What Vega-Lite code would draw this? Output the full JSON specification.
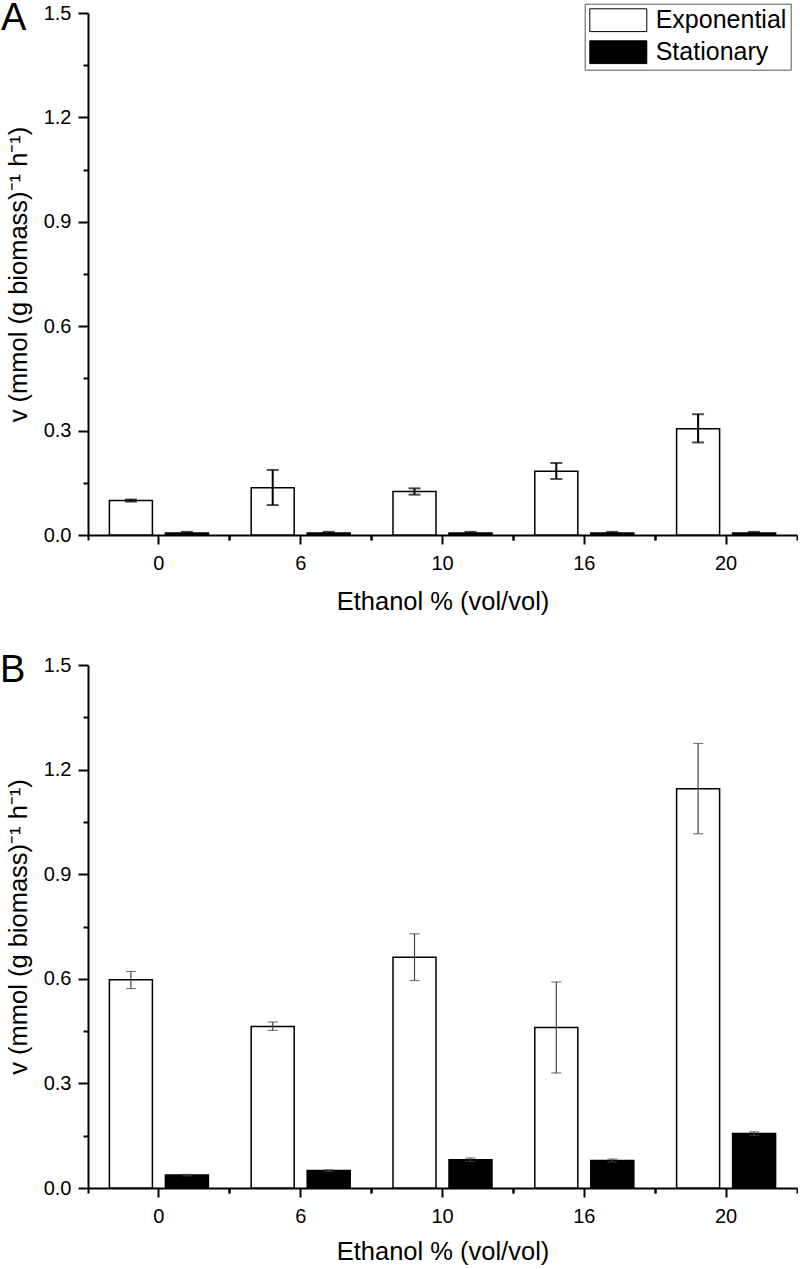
{
  "$schema": "https://vega.github.io/schema/vega-lite/v6.json",
  "padding": {"left": 0, "top": 0, "right": 0, "bottom": 0},
  "spacing": 130,
  "bounds": "flush",
  "config": {
    "font": "Liberation Sans",
    "view": {"stroke": null},
    "axis": {
      "domainColor": "black", "domainWidth": 2, "tickColor": "black", "tickWidth": 2,
      "labelColor": "black", "titleColor": "black", "labelFontSize": 20, "titleFontSize": 25.5,
      "titleFontWeight": "normal", "grid": false
    }
  },
  "vconcat": [
    {
      "width": 709,
      "height": 522,
      "data": {"values": [
        {"ethanol": 0, "phase": "Exponential", "v": 0.099, "lo": 0.096, "hi": 0.102},
        {"ethanol": 0, "phase": "Stationary", "v": 0.006, "lo": 0.004, "hi": 0.009},
        {"ethanol": 6, "phase": "Exponential", "v": 0.136, "lo": 0.086, "hi": 0.187},
        {"ethanol": 6, "phase": "Stationary", "v": 0.006, "lo": 0.004, "hi": 0.009},
        {"ethanol": 10, "phase": "Exponential", "v": 0.125, "lo": 0.116, "hi": 0.134},
        {"ethanol": 10, "phase": "Stationary", "v": 0.006, "lo": 0.004, "hi": 0.009},
        {"ethanol": 16, "phase": "Exponential", "v": 0.183, "lo": 0.161, "hi": 0.207},
        {"ethanol": 16, "phase": "Stationary", "v": 0.006, "lo": 0.004, "hi": 0.009},
        {"ethanol": 20, "phase": "Exponential", "v": 0.305, "lo": 0.266, "hi": 0.347},
        {"ethanol": 20, "phase": "Stationary", "v": 0.006, "lo": 0.004, "hi": 0.009}
      ]},
      "resolve": {"axis": {"x": "independent", "y": "independent"}},
      "layer": [
        {
          "mark": {"type": "bar", "stroke": "black", "strokeWidth": 1.5},
          "encoding": {
            "x": {"field": "ethanol", "type": "ordinal", "scale": {"paddingInner": 0, "paddingOuter": 0},
                  "axis": {"orient": "bottom", "title": "Ethanol % (vol/vol)", "labelAngle": 0, "tickSize": 9, "labelPadding": 9, "titlePadding": 16}},
            "xOffset": {"field": "phase", "type": "nominal", "scale": {"domain": ["Exponential", "Stationary"], "paddingInner": 0.232, "paddingOuter": 0.382}},
            "y": {"field": "v", "type": "quantitative", "scale": {"domain": [0, 1.5], "nice": false},
                  "axis": {"orient": "left", "title": "v (mmol (g biomass)⁻¹ h⁻¹)", "values": [0, 0.3, 0.6, 0.9, 1.2, 1.5], "format": ".1f", "tickSize": 10, "labelPadding": 7, "titlePadding": 12}},
            "fill": {"field": "phase", "type": "nominal", "scale": {"domain": ["Exponential", "Stationary"], "range": ["white", "black"]},
                     "legend": {"orient": "none", "legendX": 496.7, "legendY": -9.3, "title": null, "direction": "vertical",
                                "strokeColor": "#555", "fillColor": "white", "padding": 4,
                                "symbolType": "M-1,-1L4,-1L4,1L-1,1Z", "symbolSize": 520, "symbolStrokeColor": "black", "symbolStrokeWidth": 1,
                                "labelFontSize": 25, "labelOffset": 42, "rowPadding": 5, "labelColor": "black", "labelLimit": 300}}
          }
        },
        {
          "mark": {"type": "rule", "color": "black", "strokeWidth": 2},
          "encoding": {
            "x": {"field": "ethanol", "type": "ordinal", "axis": null},
            "xOffset": {"field": "phase", "type": "nominal"},
            "y": {"field": "lo", "type": "quantitative",
                  "axis": {"orient": "left", "values": [0.15, 0.45, 0.75, 1.05, 1.35], "tickSize": 5, "labels": false, "title": null, "domain": false}},
            "y2": {"field": "hi"}
          }
        },
        {
          "mark": {"type": "tick", "color": "black", "thickness": 2, "size": 12},
          "encoding": {
            "x": {"field": "ethanol", "type": "ordinal",
                  "axis": {"orient": "bottom", "bandPosition": 0, "tickSize": 5, "labels": false, "title": null, "domain": false}},
            "xOffset": {"field": "phase", "type": "nominal"},
            "y": {"field": "lo", "type": "quantitative", "axis": null}
          }
        },
        {
          "mark": {"type": "tick", "color": "black", "thickness": 2, "size": 12},
          "encoding": {
            "x": {"field": "ethanol", "type": "ordinal",
                  "axis": {"orient": "bottom", "bandPosition": 1, "tickSize": 5, "labels": false, "title": null, "domain": false}},
            "xOffset": {"field": "phase", "type": "nominal"},
            "y": {"field": "hi", "type": "quantitative", "axis": null}
          }
        },
        {
          "data": {"values": [{"panel": "A"}]},
          "mark": {"type": "text", "fontSize": 38, "align": "left", "baseline": "alphabetic", "dx": -87, "dy": 17, "color": "black"},
          "encoding": {
            "x": {"datum": 0, "type": "ordinal", "bandPosition": 0, "axis": null},
            "y": {"datum": 1.5, "type": "quantitative", "axis": null},
            "text": {"field": "panel"}
          }
        }
      ]
    },
    {
      "width": 709,
      "height": 523,
      "data": {"values": [
        {"ethanol": 0, "phase": "Exponential", "v": 0.597, "lo": 0.572, "hi": 0.621},
        {"ethanol": 0, "phase": "Stationary", "v": 0.037, "lo": 0.035, "hi": 0.039},
        {"ethanol": 6, "phase": "Exponential", "v": 0.463, "lo": 0.452, "hi": 0.476},
        {"ethanol": 6, "phase": "Stationary", "v": 0.05, "lo": 0.048, "hi": 0.052},
        {"ethanol": 10, "phase": "Exponential", "v": 0.662, "lo": 0.595, "hi": 0.729},
        {"ethanol": 10, "phase": "Stationary", "v": 0.081, "lo": 0.076, "hi": 0.086},
        {"ethanol": 16, "phase": "Exponential", "v": 0.46, "lo": 0.33, "hi": 0.591},
        {"ethanol": 16, "phase": "Stationary", "v": 0.079, "lo": 0.075, "hi": 0.083},
        {"ethanol": 20, "phase": "Exponential", "v": 1.145, "lo": 1.016, "hi": 1.275},
        {"ethanol": 20, "phase": "Stationary", "v": 0.156, "lo": 0.151, "hi": 0.161}
      ]},
      "resolve": {"axis": {"x": "independent", "y": "independent"}},
      "layer": [
        {
          "mark": {"type": "bar", "stroke": "black", "strokeWidth": 1.5},
          "encoding": {
            "x": {"field": "ethanol", "type": "ordinal", "scale": {"paddingInner": 0, "paddingOuter": 0},
                  "axis": {"orient": "bottom", "title": "Ethanol % (vol/vol)", "labelAngle": 0, "tickSize": 9, "labelPadding": 9, "titlePadding": 13}},
            "xOffset": {"field": "phase", "type": "nominal", "scale": {"domain": ["Exponential", "Stationary"], "paddingInner": 0.232, "paddingOuter": 0.382}},
            "y": {"field": "v", "type": "quantitative", "scale": {"domain": [0, 1.5], "nice": false},
                  "axis": {"orient": "left", "title": "v (mmol (g biomass)⁻¹ h⁻¹)", "values": [0, 0.3, 0.6, 0.9, 1.2, 1.5], "format": ".1f", "tickSize": 10, "labelPadding": 7, "titlePadding": 12}},
            "fill": {"field": "phase", "type": "nominal", "scale": {"domain": ["Exponential", "Stationary"], "range": ["white", "black"]},
                     "legend": {"orient": "none", "legendX": 496.7, "legendY": -10.3, "title": null, "direction": "vertical",
                                "strokeColor": "#555", "fillColor": "white", "padding": 4,
                                "symbolType": "M-1,-1L4,-1L4,1L-1,1Z", "symbolSize": 520, "symbolStrokeColor": "black", "symbolStrokeWidth": 1,
                                "labelFontSize": 25, "labelOffset": 42, "rowPadding": 5, "labelColor": "black", "labelLimit": 300}}
          }
        },
        {
          "mark": {"type": "rule", "color": "#444", "strokeWidth": 1.2},
          "encoding": {
            "x": {"field": "ethanol", "type": "ordinal", "axis": null},
            "xOffset": {"field": "phase", "type": "nominal"},
            "y": {"field": "lo", "type": "quantitative",
                  "axis": {"orient": "left", "values": [0.15, 0.45, 0.75, 1.05, 1.35], "tickSize": 5, "labels": false, "title": null, "domain": false}},
            "y2": {"field": "hi"}
          }
        },
        {
          "mark": {"type": "tick", "color": "#444", "thickness": 1.2, "size": 10},
          "encoding": {
            "x": {"field": "ethanol", "type": "ordinal",
                  "axis": {"orient": "bottom", "bandPosition": 0, "tickSize": 5, "labels": false, "title": null, "domain": false}},
            "xOffset": {"field": "phase", "type": "nominal"},
            "y": {"field": "lo", "type": "quantitative", "axis": null}
          }
        },
        {
          "mark": {"type": "tick", "color": "#444", "thickness": 1.2, "size": 10},
          "encoding": {
            "x": {"field": "ethanol", "type": "ordinal",
                  "axis": {"orient": "bottom", "bandPosition": 1, "tickSize": 5, "labels": false, "title": null, "domain": false}},
            "xOffset": {"field": "phase", "type": "nominal"},
            "y": {"field": "hi", "type": "quantitative", "axis": null}
          }
        },
        {
          "data": {"values": [{"panel": "B"}]},
          "mark": {"type": "text", "fontSize": 38, "align": "left", "baseline": "alphabetic", "dx": -88, "dy": 17, "color": "black"},
          "encoding": {
            "x": {"datum": 0, "type": "ordinal", "bandPosition": 0, "axis": null},
            "y": {"datum": 1.5, "type": "quantitative", "axis": null},
            "text": {"field": "panel"}
          }
        }
      ]
    }
  ]
}
